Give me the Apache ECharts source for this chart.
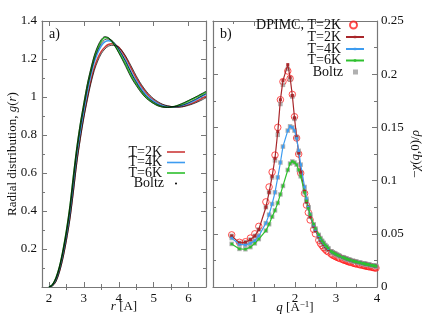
<!DOCTYPE html>
<html><head><meta charset="utf-8">
<script src="https://cdn.jsdelivr.net/npm/echarts@6/dist/echarts.min.js"></script>
<style>html,body{margin:0;padding:0;background:#fff}#c{width:424px;height:317px}</style>
</head><body><div id="c"></div>
<script>
// ---------- panel a) radial distribution g(r) ----------
const rVals = [2.0,2.1,2.2,2.3,2.4,2.5,2.6,2.7,2.8,2.9,3.0,3.1,3.2,3.3,3.4,3.5,3.6,3.7,3.8,3.9,4.0,4.1,4.2,4.3,4.4,4.5,4.6,4.7,4.8,4.9,5.0,5.1,5.2,5.3,5.4,5.5,5.6,5.7,5.8,5.9,6.0,6.1,6.2,6.3,6.4,6.5];
const g2K = [0,0.008,0.033,0.085,0.16,0.255,0.37,0.515,0.67,0.795,0.905,1.0,1.085,1.155,1.205,1.24,1.262,1.276,1.28,1.274,1.262,1.237,1.207,1.172,1.135,1.10,1.07,1.043,1.02,1.0,0.985,0.972,0.962,0.955,0.951,0.948,0.947,0.948,0.95,0.955,0.96,0.967,0.975,0.984,0.994,1.004];
const g4K = [0,0.01,0.04,0.095,0.175,0.27,0.39,0.54,0.70,0.82,0.93,1.03,1.115,1.185,1.235,1.27,1.29,1.296,1.292,1.275,1.25,1.22,1.19,1.152,1.115,1.085,1.055,1.03,1.008,0.992,0.978,0.966,0.958,0.952,0.949,0.948,0.948,0.95,0.954,0.96,0.967,0.975,0.984,0.995,1.005,1.015];
const g6K = [0,0.012,0.047,0.105,0.19,0.295,0.42,0.58,0.73,0.855,0.96,1.06,1.14,1.21,1.26,1.295,1.313,1.31,1.293,1.268,1.238,1.205,1.17,1.132,1.097,1.068,1.04,1.016,0.996,0.981,0.968,0.958,0.951,0.947,0.946,0.947,0.95,0.955,0.962,0.97,0.979,0.988,0.997,1.006,1.016,1.026];
const gBoltz2K = [0,0.006,0.028,0.078,0.15,0.245,0.355,0.5,0.655,0.78,0.89,0.985,1.07,1.14,1.19,1.228,1.252,1.267,1.272,1.27,1.262,1.242,1.215,1.182,1.147,1.112,1.08,1.052,1.028,1.008,0.991,0.978,0.967,0.959,0.954,0.95,0.948,0.947,0.948,0.951,0.956,0.962,0.969,0.977,0.986,0.996];
const gBoltz4K = [0,0.011,0.043,0.1,0.182,0.282,0.405,0.56,0.715,0.838,0.945,1.045,1.128,1.197,1.248,1.282,1.302,1.305,1.298,1.279,1.252,1.22,1.186,1.148,1.11,1.078,1.048,1.023,1.002,0.986,0.973,0.962,0.954,0.949,0.947,0.947,0.948,0.951,0.956,0.962,0.97,0.979,0.988,0.998,1.008,1.018];
const gBoltz6K = [0,0.014,0.05,0.11,0.195,0.3,0.43,0.59,0.74,0.865,0.97,1.07,1.15,1.22,1.27,1.303,1.318,1.313,1.293,1.265,1.232,1.197,1.16,1.122,1.088,1.06,1.033,1.01,0.991,0.977,0.965,0.955,0.949,0.945,0.945,0.947,0.951,0.957,0.965,0.973,0.982,0.991,1.0,1.01,1.02,1.03];
const rMajorTicks = [2,3,4,5,6];
const rMinorTicks = [2.5,3.5,4.5,5.5];

// ---------- panel b) static response -chi(q,0)/rho ----------
const qVals = [0.456,0.645,0.790,0.912,1.020,1.117,1.290,1.368,1.442,1.512,1.580,1.644,1.706,1.824,1.880,1.935,1.988,2.039,2.090,2.139,2.234,2.280,2.325,2.369,2.456,2.498,2.580,2.620,2.659,2.698,2.736,2.774,2.811,
  2.884,2.920,2.955,2.990,3.025,3.059,3.093,3.159,3.192,3.224,3.257,3.288,3.320,3.351,3.412,3.443,3.473,3.503,3.562,3.591,3.648,3.676,3.705,3.733,3.760,3.788,3.815,3.869,3.896,3.923,3.949,3.975];
const chi2KHead = [0.048,0.0415,0.042,0.0445,0.048,0.054,0.075,0.089,0.104,0.121,0.146,0.176,0.194,0.209,0.197,0.180,0.159,0.141,0.126,0.108,0.090,0.080,0.075,0.066,0.057,0.053,0.047,0.044,0.042,0.040,0.038,0.0365,0.035];
const chi4KHead = [0.046,0.040,0.0395,0.041,0.0435,0.048,0.060,0.068,0.078,0.089,0.103,0.117,0.132,0.147,0.151,0.150,0.147,0.140,0.128,0.115,0.094,0.083,0.075,0.068,0.058,0.054,0.048,0.045,0.043,0.041,0.039,0.0375,0.036];
const chi6KHead = [0.0405,0.0358,0.0355,0.0375,0.041,0.045,0.053,0.059,0.066,0.072,0.079,0.087,0.095,0.110,0.116,0.118,0.117,0.115,0.110,0.104,0.089,0.081,0.074,0.068,0.059,0.055,0.049,0.046,0.0435,0.0415,0.0395,0.038,0.0365];
const chiBoltz2KHead = [0.048,0.0415,0.042,0.0445,0.048,0.054,0.075,0.089,0.103,0.119,0.143,0.172,0.190,0.205,0.195,0.179,0.158,0.141,0.126,0.108,0.090,0.080,0.075,0.066,0.057,0.053,0.047,0.044,0.042,0.040,0.038,0.0365,0.035];
const chiTail = [0.0335,0.0325,0.0318,0.031,0.0303,0.0296,0.029,0.028,0.0275,0.027,0.0265,0.026,0.0256,0.0252,0.0245,0.0242,0.0238,0.0235,0.023,0.0227,0.0222,0.022,0.0217,0.0215,0.0212,0.021,0.0208,0.0204,0.0202,0.02,0.0198,0.0196];
const chiDPIMC = [0.049,0.042,0.0425,0.046,0.050,0.057,0.080,0.094,0.108,0.124,0.150,0.176,0.193,0.203,0.196,0.181,0.160,0.140,0.125,0.107,0.088,0.077,0.070,0.063,0.054,0.050,0.044,0.041,0.039,0.037,0.0355,0.034,0.033,
  0.031,0.030,0.0293,0.0286,0.028,0.0274,0.0268,0.0258,0.0254,0.025,0.0245,0.024,0.0236,0.0232,0.0226,0.0222,0.0219,0.0216,0.0211,0.0208,0.0204,0.0202,0.0199,0.0197,0.0194,0.0192,0.019,0.0186,0.0184,0.0182,0.018,0.0178];

const chi2K = chi2KHead.concat(chiTail);
const chi4K = chi4KHead.concat(chiTail);
const chi6K = chi6KHead.concat(chiTail);
const chiBoltz2K = chiBoltz2KHead.concat(chiTail);

const FONT = 'Liberation Serif';
const AX = '#777';
const TXT = '#111';
const pairs = (xs, ys) => xs.map((x, i) => [x, ys[i]]);

const C2 = '#cc3a3a', C4 = '#3d9cf0', C6 = '#2ec02e';
const D2 = '#a8262a';

function xAx(grid, pos, min, max, o) {
  return Object.assign({
    type: 'value', gridIndex: grid, position: pos, min, max,
    axisLine: {show: true, onZero: false, lineStyle: {color: AX, width: 1.2}},
    axisTick: {show: true, inside: true, length: 5, lineStyle: {color: AX}},
    axisLabel: {show: false},
    splitLine: {show: false}
  }, o);
}

const option = {
  animation: false,
  backgroundColor: '#fff',
  textStyle: {fontFamily: FONT},
  title: [
    {text: 'a)', left: 49, top: 27, padding: 0, textStyle: {fontFamily: FONT, fontSize: 14, fontWeight: 'normal', color: TXT}},
    {text: 'b)', left: 220, top: 27, padding: 0, textStyle: {fontFamily: FONT, fontSize: 14, fontWeight: 'normal', color: TXT}}
  ],
  grid: [
    {left: 42, top: 21, width: 164, height: 266, containLabel: false, outerBoundsMode: 'none'},
    {left: 213, top: 21, width: 164, height: 266, containLabel: false, outerBoundsMode: 'none'}
  ],
  xAxis: [
    xAx(0, 'bottom', 1.8, 6.5, {
      axisTick: {show: true, inside: true, length: 5, lineStyle: {color: AX}, customValues: rMajorTicks},
      axisLabel: {show: true, customValues: rMajorTicks, margin: 5, fontFamily: FONT, fontSize: 13, color: TXT},
      name: '{i|r} [A]', nameLocation: 'middle', nameGap: 13, nameMoveOverlap: false,
      nameTextStyle: {fontFamily: FONT, fontSize: 13, color: TXT, rich: {i: {fontStyle: 'italic', fontFamily: FONT, fontSize: 13}}}
    }),
    xAx(0, 'bottom', 1.8, 6.5, {axisLine: {show: false}, axisTick: {show: true, inside: true, length: 3, lineStyle: {color: AX}, customValues: rMinorTicks}}),
    xAx(0, 'top', 1.8, 6.5, {axisTick: {show: true, inside: true, length: 5, lineStyle: {color: AX}, customValues: rMajorTicks}}),
    xAx(0, 'top', 1.8, 6.5, {axisLine: {show: false}, axisTick: {show: true, inside: true, length: 3, lineStyle: {color: AX}, customValues: rMinorTicks}}),
    xAx(1, 'bottom', 0, 4, {
      interval: 1,
      minorTick: {show: true, splitNumber: 2, length: 3, lineStyle: {color: AX}},
      axisLabel: {show: true, margin: 5, fontFamily: FONT, fontSize: 13, color: TXT, formatter: v => v === 0 ? '' : String(v)},
      name: '{i|q} [A{s|−1}]', nameLocation: 'middle', nameGap: 13, nameMoveOverlap: false,
      nameTextStyle: {fontFamily: FONT, fontSize: 13, color: TXT, rich: {
        i: {fontStyle: 'italic', fontFamily: FONT, fontSize: 13},
        s: {fontFamily: FONT, fontSize: 9, padding: [0, 0, 7, 0]}
      }}
    }),
    xAx(1, 'top', 0, 4, {interval: 1, minorTick: {show: true, splitNumber: 2, length: 3, lineStyle: {color: AX}}})
  ],
  yAxis: [
    {
      type: 'value', gridIndex: 0, position: 'left', min: 0, max: 1.4, interval: 0.2,
      axisLine: {show: true, onZero: false, lineStyle: {color: AX, width: 1.2}},
      axisTick: {show: true, inside: true, length: 5, lineStyle: {color: AX}},
      minorTick: {show: true, splitNumber: 2, length: 3, lineStyle: {color: AX}},
      axisLabel: {margin: 5, fontFamily: FONT, fontSize: 13, color: TXT, formatter: v => v === 0 ? '' : String(Math.round(v * 10) / 10)},
      splitLine: {show: false},
      name: 'Radial distribution, {i|g}({i|r})', nameLocation: 'middle', nameRotate: 90, nameGap: 23, nameMoveOverlap: false,
      nameTextStyle: {fontFamily: FONT, fontSize: 13, color: TXT, rich: {i: {fontStyle: 'italic', fontFamily: FONT, fontSize: 13}}}
    },
    {
      type: 'value', gridIndex: 0, position: 'right', min: 0, max: 1.4, interval: 0.2,
      axisLine: {show: true, onZero: false, lineStyle: {color: AX, width: 1.2}},
      axisTick: {show: true, inside: true, length: 5, lineStyle: {color: AX}},
      minorTick: {show: true, splitNumber: 2, length: 3, lineStyle: {color: AX}},
      axisLabel: {show: false}, splitLine: {show: false}
    },
    {
      type: 'value', gridIndex: 1, position: 'right', min: 0, max: 0.25, interval: 0.05,
      axisLine: {show: true, onZero: false, lineStyle: {color: AX, width: 1.2}},
      axisTick: {show: true, inside: true, length: 5, lineStyle: {color: AX}},
      minorTick: {show: true, splitNumber: 2, length: 3, lineStyle: {color: AX}},
      axisLabel: {margin: 4, fontFamily: FONT, fontSize: 13, color: TXT, formatter: v => String(Math.round(v * 100) / 100)},
      splitLine: {show: false},
      name: '−{i|χ}({i|q},0)/{i|ρ}', nameLocation: 'middle', nameRotate: 90, nameGap: 32, nameMoveOverlap: false,
      nameTextStyle: {fontFamily: FONT, fontSize: 13, color: TXT, rich: {i: {fontStyle: 'italic', fontFamily: FONT, fontSize: 13}}}
    },
    {
      type: 'value', gridIndex: 1, position: 'left', min: 0, max: 0.25, interval: 0.05,
      axisLine: {show: true, onZero: false, lineStyle: {color: AX, width: 1.2}},
      axisTick: {show: true, inside: true, length: 5, lineStyle: {color: AX}},
      minorTick: {show: true, splitNumber: 2, length: 3, lineStyle: {color: AX}},
      axisLabel: {show: false}, splitLine: {show: false}
    }
  ],
  legend: [],
  series: []
};

function lg(name, top, right, extra) {
  return Object.assign({
    data: [name], top, right, orient: 'vertical', align: 'right', padding: 0, itemGap: 0,
    itemWidth: 18, itemHeight: 3, selectedMode: false,
    formatter: n => n.replace(/^[ab]:/, ''),
    textStyle: {fontFamily: FONT, fontSize: 14, color: TXT}
  }, extra || {});
}
option.legend.push(
  lg('a:T=2K', 145, 239, {icon: 'rect', itemHeight: 1.6}),
  lg('a:T=4K', 155.5, 239, {icon: 'rect', itemHeight: 1.6}),
  lg('a:T=6K', 166, 239, {icon: 'rect', itemHeight: 1.6}),
  lg('a:Boltz', 176.5, 247, {itemWidth: 2, itemHeight: 2, icon: 'circle', textStyle: {fontFamily: FONT, fontSize: 14, color: TXT, padding: [0, 6, 0, 0]}}),
  lg('b:DPIMC, T=2K', 18, 66, {itemWidth: 7, itemHeight: 7, textStyle: {fontFamily: FONT, fontSize: 14, color: TXT, padding: [0, 4, 0, 0]}}),
  lg('b:T=2K', 30, 59),
  lg('b:T=4K', 42, 59),
  lg('b:T=6K', 53.5, 59),
  lg('b:Boltz', 65, 66, {itemWidth: 5, itemHeight: 5, icon: 'rect', textStyle: {fontFamily: FONT, fontSize: 14, color: TXT, padding: [0, 5, 0, 0]}})
);

function gLine(name, ys, color, width) {
  return {name, type: 'line', xAxisIndex: 0, yAxisIndex: 0, data: pairs(rVals, ys), symbol: 'none', smooth: 0.3,
    lineStyle: {color, width}, itemStyle: {color}};
}
option.series.push(
  gLine('a:T=2K', g2K, C2, 1.6),
  gLine('a:T=4K', g4K, C4, 1.6),
  gLine('a:T=6K', g6K, C6, 1.6),
  gLine('a:Boltz', gBoltz2K, '#000', 0.7),
  gLine('a:Boltz', gBoltz4K, '#000', 0.7),
  gLine('a:Boltz', gBoltz6K, '#000', 0.7)
);

function cLine(name, ys, color, size) {
  return {name, type: 'line', xAxisIndex: 4, yAxisIndex: 2, data: pairs(qVals, ys),
    symbol: 'rect', symbolSize: size, showSymbol: true,
    lineStyle: {color, width: 1.2}, itemStyle: {color}};
}
function boltz(ys) {
  return {name: 'b:Boltz', type: 'scatter', xAxisIndex: 4, yAxisIndex: 2, data: pairs(qVals, ys),
    symbol: 'rect', symbolSize: 4.5, itemStyle: {color: '#9c9c9c'}};
}
option.series.push(
  {name: 'b:DPIMC, T=2K', type: 'scatter', xAxisIndex: 4, yAxisIndex: 2, data: pairs(qVals, chiDPIMC),
    symbol: 'circle', symbolSize: 6.5, itemStyle: {color: 'rgba(255,255,255,0)', borderColor: '#ff2222', borderWidth: 1}},
  cLine('b:T=2K', chi2K, D2, 3),
  cLine('b:T=4K', chi4K, C4, 2.5),
  cLine('b:T=6K', chi6K, C6, 2.5),
  boltz(chiBoltz2K),
  boltz(chi4K),
  boltz(chi6K)
);

const chart = echarts.init(document.getElementById('c'), null, {renderer: 'canvas'});
chart.setOption(option);
</script>
</body></html>
